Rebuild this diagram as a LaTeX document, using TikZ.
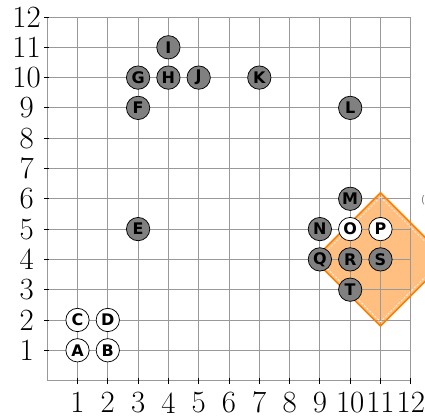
\documentclass[tikz,border=0pt]{standalone}
\usepackage{fontspec}
\newfontfamily\nodefont{DejaVu Sans}
\begin{document}
\begin{tikzpicture}[x=1cm,y=1cm,
  pt/.style={circle,draw=black,line width=0.7pt,minimum size=0.77cm,inner sep=0pt,
    font=\nodefont\fontsize{15}{16}\selectfont\bfseries},
  gpt/.style={pt,fill=gray},
  wpt/.style={pt,fill=white},
  gridline/.style={draw=black!40,line width=0.8pt},
  axlab/.style={inner sep=0pt,font=\fontsize{29}{30}\selectfont}]
\useasboundingbox (-1.558,-1.168) rectangle (12.469,12.561);
% orange region
\fill[orange!50] (11,6.2) -- (13.2,4) -- (11,1.8) -- (8.8,4) -- cycle;
% grid
\draw[gridline] (0,0) grid (12,12);
\foreach \i in {1,...,12}{
  \draw[black,line width=0.8pt] (\i,-0.1) -- (\i,0.07);
  \draw[black,line width=0.8pt] (-0.1,\i) -- (0.07,\i);
  \node[axlab] (xl\i) at (\i,-0.73) {\i};
  \node[axlab] (yl\i) at (-0.68,\i) {\i};
}
\draw[orange,line width=1.5pt] (11,6.2) -- (13.2,4) -- (11,1.8) -- (8.8,4) -- cycle;
\draw[white,line width=0.6pt,dash pattern=on 2pt off 1.5pt] (11,6.06) -- (13.06,4) -- (11,1.94) -- (8.94,4) -- cycle;
\node[text=black!50,anchor=west,inner sep=0pt,font=\nodefont\fontsize{10}{12}\selectfont] (lbl) at (12.33,5.96) {(};
% nodes
\node[wpt] (A) at (1,1) {A};
\node[wpt] (B) at (2,1) {B};
\node[wpt] (C) at (1,2) {C};
\node[wpt] (D) at (2,2) {D};
\node[gpt] (E) at (3,5) {E};
\node[gpt] (F) at (3,9) {F};
\node[gpt] (G) at (3,10) {G};
\node[gpt] (H) at (4,10) {H};
\node[gpt] (I) at (4,11) {I};
\node[gpt] (J) at (5,10) {J};
\node[gpt] (K) at (7,10) {K};
\node[gpt] (L) at (10,9) {L};
\node[gpt] (M) at (10,6) {M};
\node[gpt] (N) at (9,5) {N};
\node[wpt] (O) at (10,5) {O};
\node[wpt] (P) at (11,5) {P};
\node[gpt] (Q) at (9,4) {Q};
\node[gpt] (R) at (10,4) {R};
\node[gpt] (S) at (11,4) {S};
\node[gpt] (T) at (10,3) {T};
\end{tikzpicture}
\end{document}
